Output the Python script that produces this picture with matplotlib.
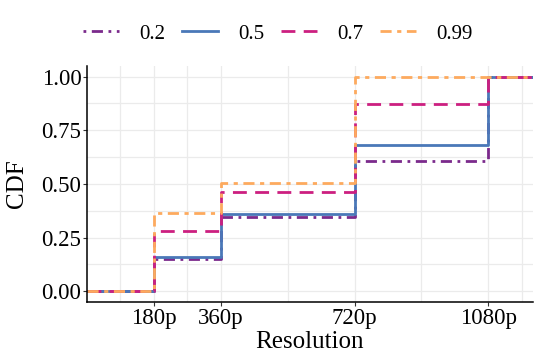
import matplotlib.pyplot as plt
from matplotlib.ticker import MultipleLocator, FixedLocator

plt.rcParams['font.family'] = ['Liberation Serif', 'DejaVu Serif']

# resolution steps (pixels height) and CDF value per quantile
resolutions = [0, 180, 360, 720, 1080, 1200]
tick_labels = ['180p', '360p', '720p', '1080p']
quantiles = ['0.2', '0.5', '0.7', '0.99']
cdf_02 = [0.0, 0.152, 0.348, 0.609, 1.0, 1.0]
cdf_05 = [0.0, 0.159, 0.358, 0.681, 1.0, 1.0]
cdf_07 = [0.0, 0.281, 0.462, 0.873, 1.0, 1.0]
cdf_099 = [0.0, 0.365, 0.503, 1.0, 1.0, 1.0]

colors = ['#7b2a8c', '#4a78b8', '#cc1f80', '#fdaa5e']
styles = [(0, (1, 2, 4, 2)), '-', (0, (5, 3)), (0, (4, 2, 1.5, 2))]

fig = plt.figure(figsize=(5.4, 3.6), dpi=100)
ax = fig.add_axes([0.161, 0.161, 0.826, 0.656])

for vals, q, c, ls in zip([cdf_02, cdf_05, cdf_07, cdf_099], quantiles, colors, styles):
    ax.step(resolutions, vals, where='post', color=c, linestyle=ls, linewidth=2, label=q)

ax.set_xlim(0, 1200)
ax.set_ylim(-0.05, 1.05)
ax.xaxis.set_major_locator(FixedLocator([180, 360, 720, 1080]))
ax.set_xticklabels(tick_labels)
ax.xaxis.set_minor_locator(FixedLocator([90, 270, 540, 900, 1170]))
ax.yaxis.set_major_locator(MultipleLocator(0.25))
ax.yaxis.set_minor_locator(MultipleLocator(0.125))
ax.grid(which='both', color='#ebebeb', linewidth=0.9)
ax.set_axisbelow(True)
ax.tick_params(which='minor', length=0)
ax.tick_params(which='major', labelsize=16.5, length=3, color='#333333', pad=1)

for s in ['top', 'right']:
    ax.spines[s].set_visible(False)
for s in ['left', 'bottom']:
    ax.spines[s].set_color('black')
    ax.spines[s].set_linewidth(1.1)

ax.set_xlabel('Resolution', fontsize=18, labelpad=2)
ax.set_ylabel('CDF', fontsize=18, labelpad=10)

fig.legend(loc='upper center', bbox_to_anchor=(0.515, 0.985), ncol=4, frameon=False,
           fontsize=15, handlelength=1.7, columnspacing=0.8, handletextpad=1.0)

fig.savefig('out.png', dpi=100)
